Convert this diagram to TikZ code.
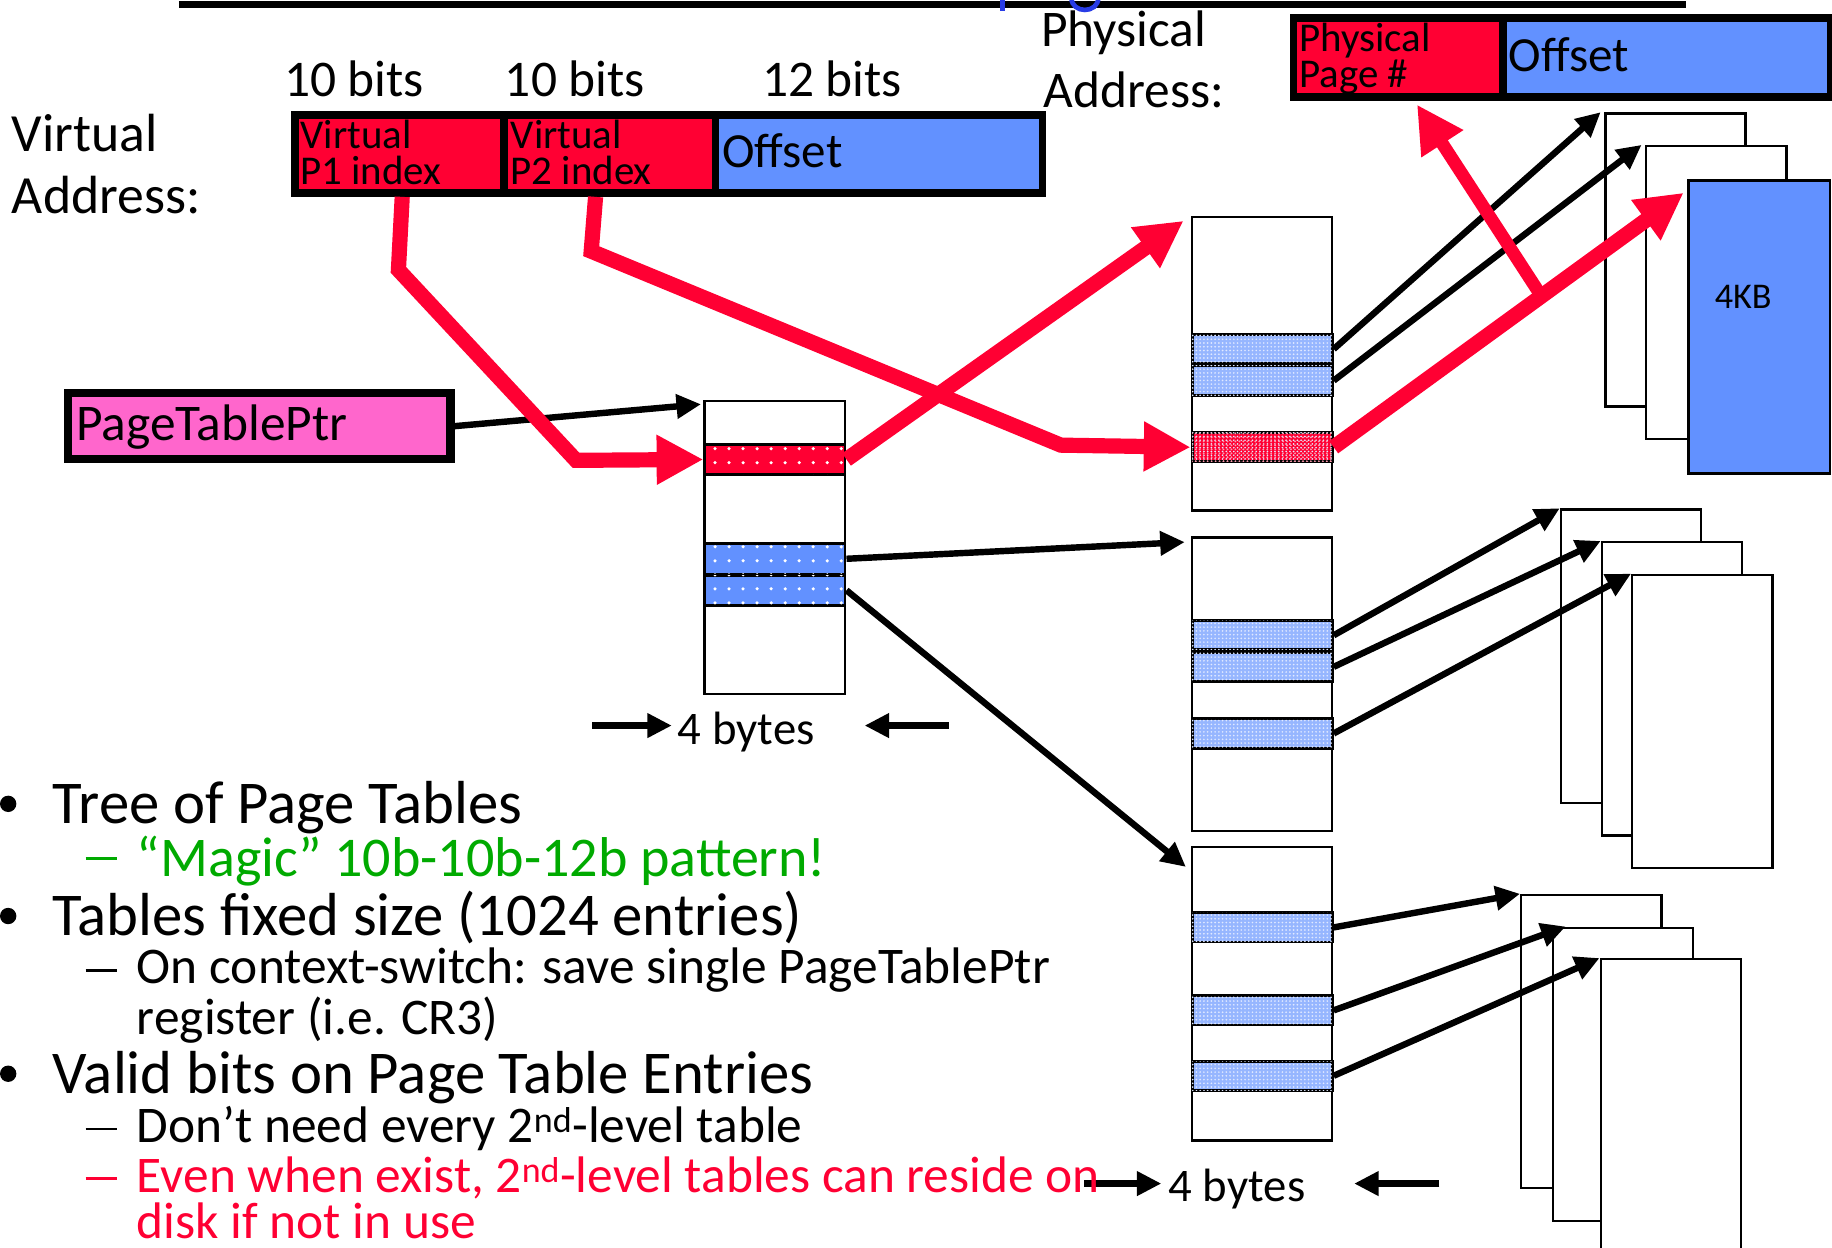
\documentclass[tikz,border=0pt]{standalone}
\usepackage{fontspec}
\setmainfont{Carlito}
\usetikzlibrary{arrows.meta,patterns.meta}

\definecolor{cRed}{RGB}{255,0,51}
\definecolor{cBlue}{RGB}{98,145,255}
\definecolor{cLight}{RGB}{150,182,255}
\definecolor{cPink}{RGB}{255,102,204}
\definecolor{cGreen}{RGB}{0,170,0}
\definecolor{cTitle}{RGB}{40,60,230}

\newcommand{\szf}[1]{\fontsize{#1}{#1}\selectfont}
\newcommand{\subdash}[1]{\rule[#1]{27pt}{2.4pt}}

\tikzset{
  txt/.style={inner sep=0pt, anchor=base west},
  bulletdot/.style={circle, fill=black, inner sep=0pt, minimum size=14pt},
  cellbox/.style={draw=black, line width=6.5pt, minimum width=#1, minimum height=67pt,
                  anchor=north west, inner sep=0pt},
  tblbox/.style={draw=black, line width=2pt, fill=white, minimum width=120pt,
                 minimum height=251pt, anchor=north west, inner sep=0pt},
  pagebox/.style={draw=black, line width=2pt, fill=white, minimum width=120pt,
                  minimum height=251pt, anchor=north west, inner sep=0pt},
  rowbox/.style={draw=black, line width=2.5pt, minimum width=120pt, minimum height=#1,
                 anchor=north west, inner sep=0pt},
  toprow/.style={rowbox=26pt, fill=#1,
                 postaction={pattern={Dots[radius=1.5pt,distance=12pt]}, pattern color=white}},
  subrow/.style={rowbox=25pt, fill=#1,
                 postaction={pattern={Dots[radius=0.8pt,distance=3.2pt]}, pattern color=white!80!cBlue}},
  redarrow/.style={draw=cRed, line width=13pt, line join=miter,
                   -{Triangle[length=40pt,width=40pt]}},
  blkarrow/.style={draw=black, line width=5.5pt, -{Triangle[length=21pt,width=20pt]}},
}

\begin{document}
\begin{tikzpicture}[x=1pt, y=-1pt]
\useasboundingbox (0,0) rectangle (1568,1068);

% heading rule and the bottoms of the title letters above it
\draw[line width=5.7pt] (153,4) -- (1443,4);
\draw[cTitle, line width=4pt] (858,-2) -- (858,9);
\draw[cTitle, line width=4pt] (917,-2) .. controls (917,12) and (940,12) .. (940,-2);

% ---------- virtual address ----------
\node[txt, font=\szf{44}] (lbits1) at (243,83) {10 bits};
\node[txt, font=\szf{44}] (lbits2) at (432,83) {10 bits};
\node[txt, font=\szf{44}] (lbits3) at (652,83) {12 bits};
\node[txt, font=\szf{46}] (lva1) at (10,130) {Virtual};
\node[txt, font=\szf{46}] (lva2) at (10,183) {Address:};

\node[cellbox=179pt, fill=cRed]  (vp1) at (249,95) {};
\node[cellbox=181pt, fill=cRed]  (vp2) at (428,95) {};
\node[cellbox=280pt, fill=cBlue] (voff) at (609,95) {};
\node[txt, font=\szf{35}] (tvp1a) at (257,127) {Virtual};
\node[txt, font=\szf{35}] (tvp1b) at (257,158) {P1 index};
\node[txt, font=\szf{35}] (tvp2a) at (437,127) {Virtual};
\node[txt, font=\szf{35}] (tvp2b) at (437,158) {P2 index};
\node[txt, font=\szf{42}] (tvoff) at (618,143) {Offset};

% ---------- physical address ----------
\node[txt, font=\szf{44}] (lpa1) at (891,40) {Physical};
\node[txt, font=\szf{44}] (lpa2) at (893,92) {Address:};
\node[cellbox=179pt, minimum height=68pt, fill=cRed]  (ppn) at (1104,12) {};
\node[cellbox=281pt, minimum height=68pt, fill=cBlue] (poff) at (1283,12) {};
\node[txt, font=\szf{35}] (tppa) at (1112,44) {Physical};
\node[txt, font=\szf{35}] (tppb) at (1112,75) {Page \#};
\node[txt, font=\szf{42}] (tpoff) at (1291,61) {Offset};

% ---------- page table pointer ----------
\node[draw=black, line width=7pt, fill=cPink, minimum width=327pt, minimum height=56.5pt,
      anchor=north west, inner sep=0pt] (ptp) at (55,333) {};
\node[txt, font=\szf{44}] (tptp) at (65,377) {PageTablePtr};

% ---------- first-level table ----------
\node[tblbox] (t0) at (602,342) {};
\node[toprow=cRed]  (t0r1) at (602,379) {};
\node[toprow=cBlue] (t0r2) at (602,464) {};
\node[toprow=cBlue] (t0r3) at (602,491) {};

\node[txt, font=\szf{40}] (bytes1) at (580,637) {4 bytes};
\coordinate (b1l) at (507,621);
\coordinate (b1r) at (812,621);
\draw[blkarrow] (b1l) -- ([xshift=-5pt]bytes1.west |- b1l);
\draw[blkarrow] (b1r) -- (740,621);

% ---------- second-level tables ----------
\node[tblbox] (tA) at (1019,185) {};
\node[subrow=cLight] (tAr1) at (1019,285) {};
\node[subrow=cLight] (tAr2) at (1019,312) {};
\node[subrow=cRed, postaction={pattern={Dots[radius=0.9pt,distance=3.4pt]}, pattern color=white!60!cRed}] (tAr3) at (1019,369) {};

\node[tblbox] (tB) at (1019,459) {};
\node[subrow=cLight] (tBr1) at (1019,530) {};
\node[subrow=cLight] (tBr2) at (1019,557) {};
\node[subrow=cLight] (tBr3) at (1019,614) {};

\node[tblbox, minimum height=251pt] (tC) at (1019,724) {};
\node[subrow=cLight] (tCr1) at (1019,780) {};
\node[subrow=cLight] (tCr2) at (1019,851) {};
\node[subrow=cLight] (tCr3) at (1019,907) {};

\node[txt, font=\szf{40}] (bytes2) at (1000,1028) {4 bytes};
\coordinate (b2l) at (928,1013);
\coordinate (b2r) at (1232,1013);
\draw[blkarrow] (b2l) -- (994,1013);
\draw[blkarrow] (b2r) -- (1159,1013);

% ---------- data pages ----------
\node[pagebox] (g1p1) at (1373,96) {};
\node[pagebox] (g1p2) at (1408,124) {};
\node[pagebox, fill=cBlue, line width=2.5pt, minimum width=121pt] (g1p3) at (1444,153) {};
\node[font=\szf{31}, inner sep=0pt] (t4kb) at (1492,254) {4KB};

\node[pagebox] (g2p1) at (1335,435) {};
\node[pagebox] (g2p2) at (1370,463) {};
\node[pagebox] (g2p3) at (1396,491) {};

\node[pagebox] (g3p1) at (1301,765) {};
\node[pagebox] (g3p2) at (1328,793) {};
\node[pagebox, minimum height=260pt] (g3p3) at (1369,820) {};

% ---------- connectors ----------
\draw[blkarrow] (ptp.east) -- ([xshift=-2pt,yshift=-4pt]t0.north west);
\draw[blkarrow] (t0r2.east) -- ([xshift=-5pt,yshift=-5pt]tB.north west);
\draw[blkarrow] (t0r3.east) -- ([xshift=-4pt,yshift=-18pt]tC.north west);

\draw[blkarrow] (tAr1.east) -- ([xshift=-3pt]g1p1.north west);
\draw[blkarrow] (tAr2.east) -- ([xshift=-3pt]g1p2.north west);
\draw[blkarrow] (tBr1.east) -- (g2p1.north west);
\draw[blkarrow] (tBr2.east) -- (g2p2.north west);
\draw[blkarrow] (tBr3.east) -- (g2p3.north west);
\draw[blkarrow] (tCr1.east) -- (g3p1.north west);
\draw[blkarrow] (tCr2.east) -- ([xshift=12pt]g3p2.north west);
\draw[blkarrow] (tCr3.east) -- (g3p3.north west);

\draw[redarrow] ([xshift=2.5pt]vp1.south) -- (341,231) -- (493,394) -- (t0r1.west);
\draw[redarrow] ([xshift=-12pt]vp2.south) -- (506,215) -- (908,381) -- (tAr3.west);
\draw[redarrow] (t0r1.east) -- ([xshift=-6pt,yshift=-4pt]tA.north west);
\draw[redarrow] (tAr3.east) -- ([xshift=-3pt,yshift=-12pt]g1p3.north west);
\coordinate (split) at (1317,250);
\draw[redarrow, line width=11pt] (split) -- ([xshift=16pt,yshift=-3pt]ppn.south);

% ---------- notes ----------
\node[bulletdot] (bu1) at (7,688) {};
\node[txt, font=\szf{52}] (n1) at (45,705) {Tree of Page Tables};
\node[txt, text=cGreen] (d2) at (73,750) {\subdash{14pt}};
\node[txt, font=\szf{48}, text=cGreen] (n2) at (117,750) {“Magic” 10b-10b-12b pattern!};
\node[bulletdot] (bu3) at (7,784) {};
\node[txt, font=\szf{52}] (n3) at (45,801) {Tables fixed size (1024 entries)};
\node[txt] (d4) at (73,842) {\subdash{10.5pt}};
\node[txt, font=\szf{44}] (n4) at (117,842) {On context-switch: save single PageTablePtr};
\node[txt, font=\szf{44}] (n5) at (117,885) {register (i.e. CR3)};
\node[bulletdot] (bu6) at (7,919) {};
\node[txt, font=\szf{52}] (n6) at (45,936) {Valid bits on Page Table Entries};
\node[txt] (d7) at (73,978) {\subdash{10.5pt}};
\node[txt, font=\szf{44}] (n7) at (117,978) {Don’t need every 2\textsuperscript{nd}-level table};
\node[txt, text=cRed] (d8) at (73,1021) {\subdash{11pt}};
\node[txt, font=\szf{44}, text=cRed] (n8) at (117,1021) {Even when exist, 2\textsuperscript{nd}-level tables can reside on};
\node[txt, font=\szf{44}, text=cRed] (n9) at (117,1060) {disk if not in use};
\end{tikzpicture}
\end{document}
